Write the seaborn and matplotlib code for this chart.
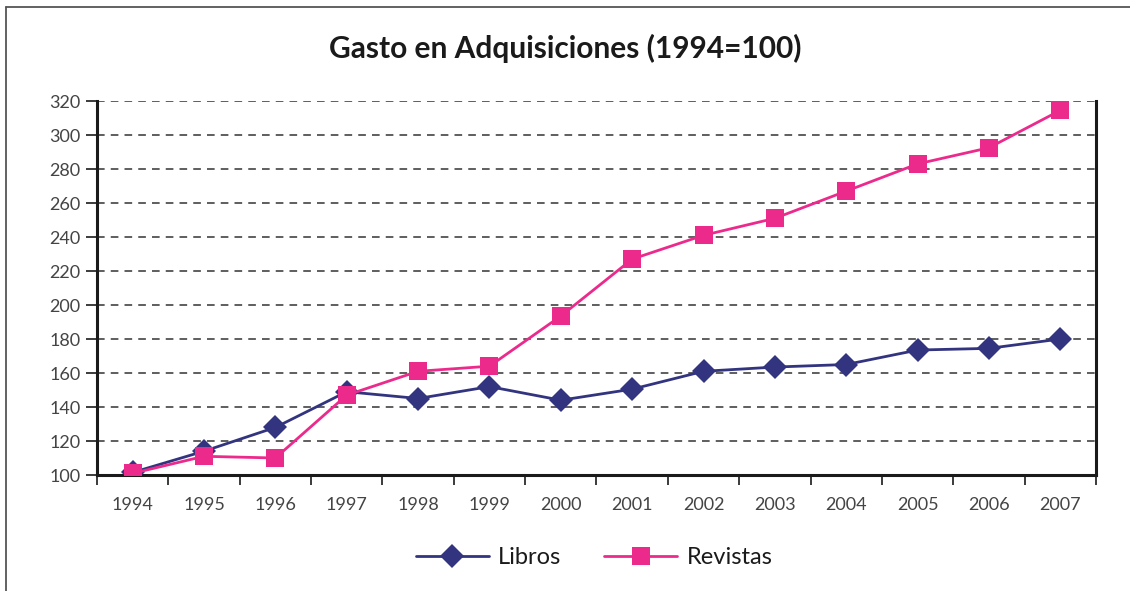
import matplotlib
matplotlib.use("Agg")
import matplotlib.pyplot as plt
import seaborn as sns
import pandas as pd
from matplotlib.lines import Line2D

years = ["1994", "1995", "1996", "1997", "1998", "1999", "2000",
         "2001", "2002", "2003", "2004", "2005", "2006", "2007"]
libros = [101.5, 114, 128, 149, 145, 152, 144, 150.5, 161, 163.5, 165, 173.5, 174.5, 180]
revistas = [101, 111, 110, 147, 161, 164, 193.5, 227, 241, 251, 267, 283, 292.5, 314.5]
y_ticks = [100, 120, 140, 160, 180, 200, 220, 240, 260, 280, 300, 320]
title = "Gasto en Adquisiciones (1994=100)"

navy = "#32347F"
pink = "#EC2A8C"

sns.set_theme(style="white")
plt.rcParams["font.family"] = ["Lato", "DejaVu Sans"]

fig = plt.figure(figsize=(11.3, 5.91), dpi=100)
ax = fig.add_axes([97 / 1130, 1 - 475 / 591, (1096 - 97) / 1130, (475 - 101) / 591])

df_l = pd.DataFrame({"Año": years, "Valor": libros})
df_r = pd.DataFrame({"Año": years, "Valor": revistas})

sns.lineplot(data=df_l, x="Año", y="Valor", ax=ax, color=navy, marker="D",
             markersize=12, markeredgewidth=0, linewidth=2.0, sort=False, zorder=3)
sns.lineplot(data=df_r, x="Año", y="Valor", ax=ax, color=pink, marker="s",
             markersize=13.5, markeredgewidth=0, linewidth=2.0, sort=False, zorder=4)

ax.set_xlim(-0.5, len(years) - 0.5)
ax.set_ylim(y_ticks[0], y_ticks[-1])
ax.set_yticks(y_ticks)
ax.set_yticklabels([str(v) for v in y_ticks])
ax.set_xticks(range(len(years)))
ax.set_xticklabels(years)
ax.set_xticks([i - 0.5 for i in range(len(years) + 1)], minor=True)
ax.set_xlabel("")
ax.set_ylabel("")

for v in y_ticks[1:]:
    ax.axhline(v, color="#333333", linestyle=(0, (5, 4)), linewidth=1.1, zorder=1)

for side in ["left", "bottom", "right"]:
    ax.spines[side].set_visible(True)
    ax.spines[side].set_color("#1a1a1a")
    ax.spines[side].set_linewidth(2.2)
ax.spines["top"].set_visible(False)

ax.tick_params(axis="y", which="major", direction="out", length=8, width=1.2,
               color="#1a1a1a", labelsize=13, labelcolor="#444444", pad=4, left=True)
ax.tick_params(axis="x", which="major", length=0, labelsize=13, labelcolor="#444444", pad=16)
ax.tick_params(axis="x", which="minor", direction="out", length=7, width=1.2,
               color="#1a1a1a", bottom=True)

fig.text(0.5, 1 - 48 / 591, title, ha="center", va="center",
         fontsize=21.5, fontweight="bold", color="#1a1a1a")

handles = [
    Line2D([], [], color=navy, marker="D", markersize=12, markeredgewidth=0, linewidth=2.0),
    Line2D([], [], color=pink, marker="s", markersize=13.5, markeredgewidth=0, linewidth=2.0),
]
fig.legend(handles, ["Libros", "Revistas"], loc="center", bbox_to_anchor=(0.5257, 1 - 558 / 591),
           ncol=2, frameon=False, fontsize=17, handlelength=3.1, columnspacing=1.8,
           handletextpad=0.4, labelcolor="#1a1a1a")

fig.add_artist(Line2D([6 / 1130, 6 / 1130], [0, 1 - 7 / 591], transform=fig.transFigure,
                      color="#555555", linewidth=1.3))
fig.add_artist(Line2D([6 / 1130, 1], [1 - 7 / 591, 1 - 7 / 591], transform=fig.transFigure,
                      color="#555555", linewidth=1.3))

fig.savefig("out.png", dpi=100)
